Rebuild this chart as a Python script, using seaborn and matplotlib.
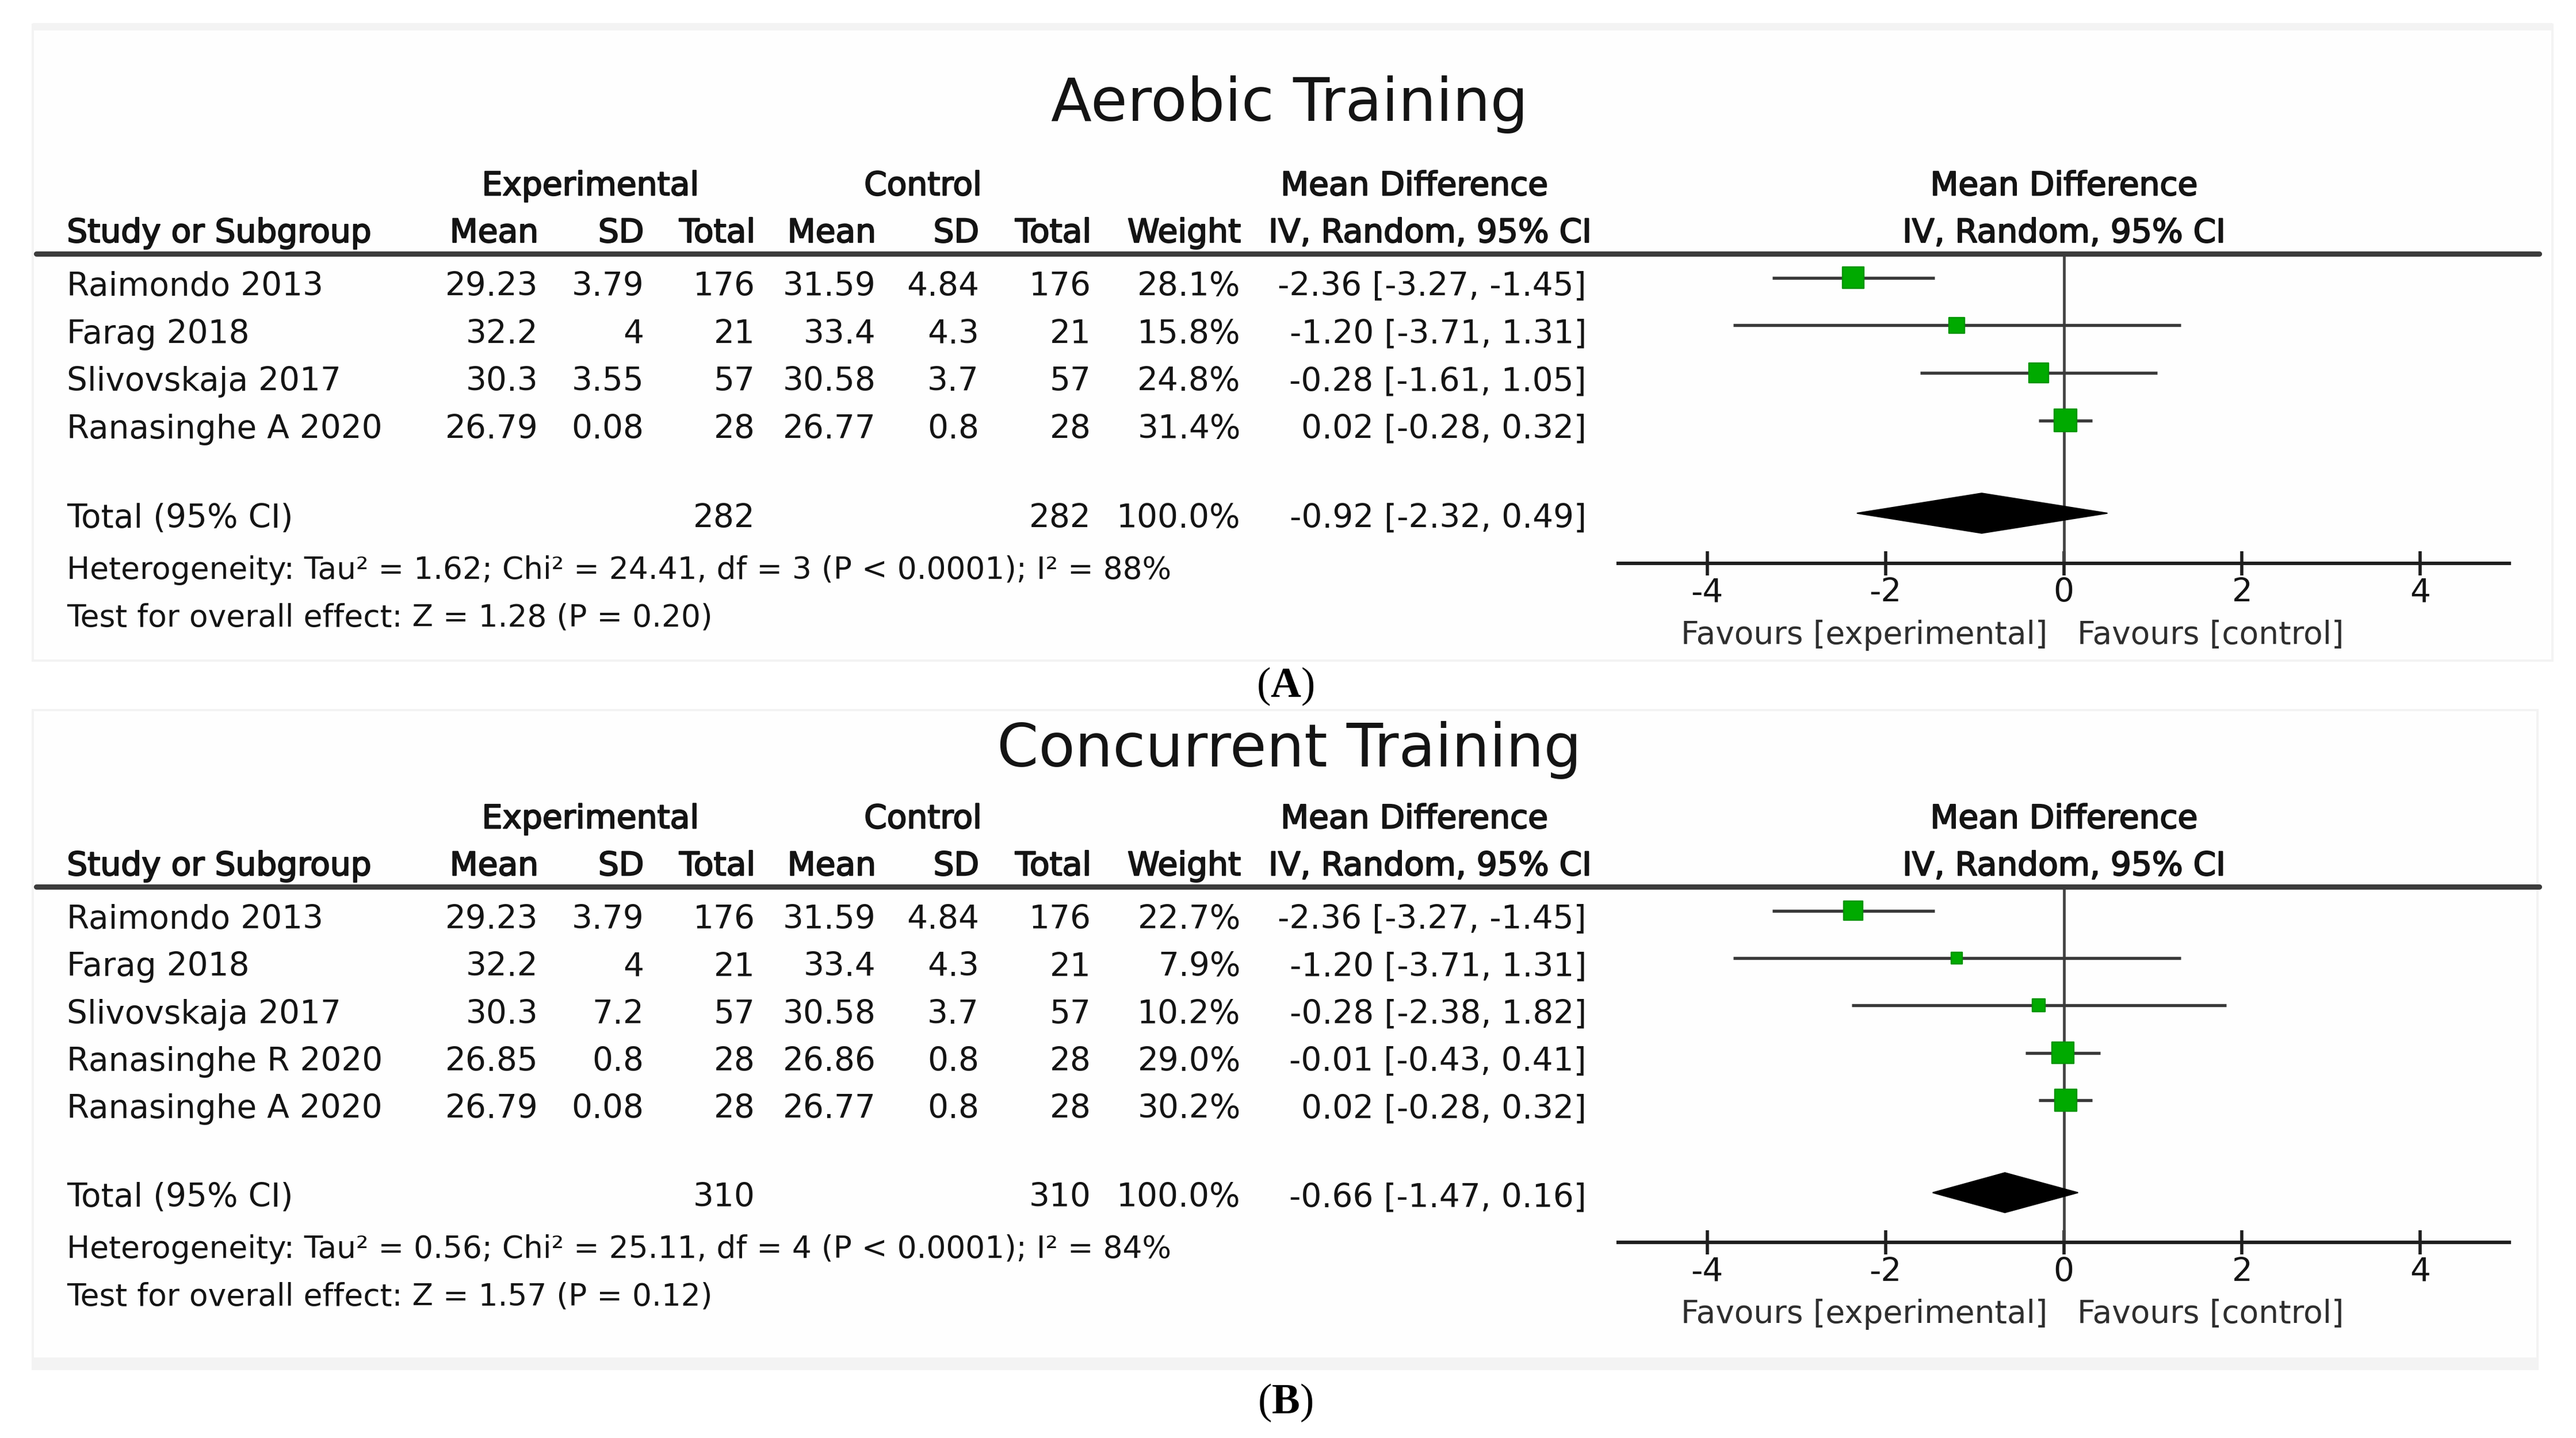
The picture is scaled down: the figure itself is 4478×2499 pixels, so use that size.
import numpy as np
import matplotlib
matplotlib.use("Agg")
import matplotlib.pyplot as plt
import matplotlib.transforms as mtransforms
import matplotlib.patheffects as pe
from matplotlib.lines import Line2D
from matplotlib.patches import Rectangle, Polygon
import seaborn as sns

# ---------------- data ----------------
# Panel A: Aerobic Training
studies_a = ["Raimondo 2013", "Farag 2018", "Slivovskaja 2017", "Ranasinghe A 2020"]
exp_mean_a = [29.23, 32.2, 30.3, 26.79]
exp_sd_a = [3.79, 4, 3.55, 0.08]
exp_n_a = [176, 21, 57, 28]
ctl_mean_a = [31.59, 33.4, 30.58, 26.77]
ctl_sd_a = [4.84, 4.3, 3.7, 0.8]
ctl_n_a = [176, 21, 57, 28]
weight_a = [28.1, 15.8, 24.8, 31.4]
md_a = [-2.36, -1.20, -0.28, 0.02]
lo_a = [-3.27, -3.71, -1.61, -0.28]
hi_a = [-1.45, 1.31, 1.05, 0.32]
total_a = [-0.92, -2.32, 0.49]
total_n_a = [282, 282]
total_w_a = 100.0
het_a = "Heterogeneity: Tau\u00b2 = 1.62; Chi\u00b2 = 24.41, df = 3 (P < 0.0001); I\u00b2 = 88%"
test_a = "Test for overall effect: Z = 1.28 (P = 0.20)"

# Panel B: Concurrent Training
studies_b = ["Raimondo 2013", "Farag 2018", "Slivovskaja 2017", "Ranasinghe R 2020", "Ranasinghe A 2020"]
exp_mean_b = [29.23, 32.2, 30.3, 26.85, 26.79]
exp_sd_b = [3.79, 4, 7.2, 0.8, 0.08]
exp_n_b = [176, 21, 57, 28, 28]
ctl_mean_b = [31.59, 33.4, 30.58, 26.86, 26.77]
ctl_sd_b = [4.84, 4.3, 3.7, 0.8, 0.8]
ctl_n_b = [176, 21, 57, 28, 28]
weight_b = [22.7, 7.9, 10.2, 29.0, 30.2]
md_b = [-2.36, -1.20, -0.28, -0.01, 0.02]
lo_b = [-3.27, -3.71, -2.38, -0.43, -0.28]
hi_b = [-1.45, 1.31, 1.82, 0.41, 0.32]
total_b = [-0.66, -1.47, 0.16]
total_n_b = [310, 310]
total_w_b = 100.0
het_b = "Heterogeneity: Tau\u00b2 = 0.56; Chi\u00b2 = 25.11, df = 4 (P < 0.0001); I\u00b2 = 84%"
test_b = "Test for overall effect: Z = 1.57 (P = 0.12)"

x_ticks = [-4, -2, 0, 2, 4]
fav_left = "Favours [experimental]"
fav_right = "Favours [control]"

# ---------------- style ----------------
sns.set_style("white")
plt.rcParams["font.family"] = ["DejaVu Sans"]
plt.rcParams["axes.unicode_minus"] = False
plt.rcParams["mathtext.fontset"] = "custom"
plt.rcParams["mathtext.bf"] = "Liberation Serif:bold"
plt.rcParams["mathtext.rm"] = "Liberation Serif"

DPI = 287
fig = plt.figure(figsize=(4478 / DPI, 2499 / DPI), dpi=DPI)
W = 4478 / DPI * 100.0   # layout units (1/100 inch)
H = 2499 / DPI * 100.0
PX = 0.72                 # points per layout unit

def fx(p):
    return p / W

def fy(p):
    return 1 - p / H

TXT = "#141414"
FS = 14.2
FS_NOTE = 13.4
CAP_HALF = 7.2
GREEN = "#00aa00"
HDR_FX = [pe.withStroke(linewidth=0.55, foreground=TXT)]

COL_R = [326, 390, 457.5, 530.5, 593, 661, 751.5, 961]
X_AX0, X_AX1 = 980.0, 1520.0


def fmt(v):
    return f"{v:g}"


def draw_panel(title, studies, em, esd, en, cm, csd, cn, wt, md, lo, hi, tot, tot_n, tot_w,
               het, test, lay):
    n = len(studies)
    rule, axis_y = lay["rule"], lay["axis"]

    # faint screenshot frame
    x0, y0, x1, y1 = lay["bg"]
    fig.add_artist(Rectangle((fx(x0), fy(y1)), fx(x1 - x0), (y1 - y0) / H,
                             transform=fig.transFigure, facecolor="#fefefe",
                             edgecolor="#f3f3f3", lw=1.0, zorder=0))
    by0, by1 = lay["band"]
    fig.add_artist(Rectangle((fx(x0), fy(by1)), fx(x1 - x0), (by1 - by0) / H,
                             transform=fig.transFigure, facecolor="#f3f3f3",
                             edgecolor="none", zorder=0))

    # title
    fig.text(fx(781), fy(lay["title"]), title, fontsize=26, color=TXT,
             ha="center", va="baseline")

    # forest axes
    ax = fig.add_axes([fx(X_AX0), fy(axis_y), fx(X_AX1 - X_AX0), (axis_y - rule) / H])
    ax.set_xlim(-5, 5)
    ax.set_ylim(n + 2, -0.51)
    ax.patch.set_alpha(0)
    for s in ["top", "left", "right"]:
        ax.spines[s].set_visible(False)
    ax.spines["bottom"].set_color("#1e1e1e")
    ax.spines["bottom"].set_linewidth(1.5)
    ax.set_yticks([])
    ax.set_xticks(x_ticks)
    ax.set_xticklabels([str(t) for t in x_ticks])
    ax.tick_params(axis="x", bottom=True, direction="inout", length=14.5 * PX, width=1.4,
                   color="#1e1e1e", labelsize=FS, labelcolor=TXT, pad=1.0)
    ax.grid(False)

    rows = np.arange(n)
    ax.axvline(0, color="#444444", lw=1.2, zorder=1)
    ax.hlines(rows, lo, hi, color="#3a3a3a", lw=1.35, zorder=2)
    sns.scatterplot(x=md, y=rows, s=[3.0 * w for w in wt], marker="s",
                    color=GREEN, edgecolor="#009400", linewidth=0.6,
                    legend=False, zorder=3, ax=ax)
    t_idx = n + 0.95
    hh = 0.42
    ax.add_patch(Polygon([(tot[1], t_idx), (tot[0], t_idx - hh), (tot[2], t_idx),
                          (tot[0], t_idx + hh)], closed=True, facecolor="black",
                         edgecolor="black", lw=0.5, zorder=3))

    # favours labels
    ax.annotate(fav_left, xy=(0, 0), xycoords=("data", "axes fraction"),
                xytext=(-7.0, -43.5 * PX), textcoords="offset points",
                ha="right", va="center", fontsize=13.8, color="#2e2e2e")
    ax.annotate(fav_right, xy=(0, 0), xycoords=("data", "axes fraction"),
                xytext=(6, -43.5 * PX), textcoords="offset points",
                ha="left", va="center", fontsize=13.8, color="#2e2e2e")

    # header rule
    fig.add_artist(Line2D([fx(22), fx(1538)], [fy(rule), fy(rule)],
                          transform=fig.transFigure, color="#3c3c3c", lw=2.3))

    # headers
    h1 = fy(rule - 42.5 + CAP_HALF)
    h2 = fy(rule - 14 + CAP_HALF)
    hk = dict(fontsize=FS, color=TXT, va="baseline", path_effects=HDR_FX)
    fig.text(fx(357.5), h1, "Experimental", ha="center", **hk)
    fig.text(fx(559), h1, "Control", ha="center", **hk)
    fig.text(fx(856.5), h1, "Mean Difference", ha="center", **hk)
    fig.text(fx(40.5), h2, "Study or Subgroup", ha="left", **hk)
    for xr, lab in zip(COL_R[:7], ["Mean", "SD", "Total", "Mean", "SD", "Total", "Weight"]):
        fig.text(fx(xr), h2, lab, ha="right", **hk)
    fig.text(fx(866), h2, "IV, Random, 95% CI", ha="center", **hk)
    hdr_tr = mtransforms.blended_transform_factory(ax.transData, fig.transFigure)
    ax.text(0, h1, "Mean Difference", transform=hdr_tr, ha="center", **hk)
    ax.text(0, h2, "IV, Random, 95% CI", transform=hdr_tr, ha="center", **hk)

    # table rows (aligned with forest rows)
    base = mtransforms.blended_transform_factory(fig.transFigure, ax.transData)
    tr = mtransforms.offset_copy(base, fig=fig, y=-(3.7 + CAP_HALF) * PX, units="points")
    tk = dict(fontsize=FS, color=TXT, va="baseline", transform=tr)
    for i in range(n):
        fig.text(fx(40.5), i, studies[i], ha="left", **tk)
        vals = [fmt(em[i]), fmt(esd[i]), str(en[i]), fmt(cm[i]), fmt(csd[i]), str(cn[i]),
                f"{wt[i]:.1f}%", f"{md[i]:.2f} [{lo[i]:.2f}, {hi[i]:.2f}]"]
        for xr, v in zip(COL_R, vals):
            fig.text(fx(xr), i, v, ha="right", **tk)
    tt = t_idx - 0.08
    fig.text(fx(40.5), tt, "Total (95% CI)", ha="left", **tk)
    fig.text(fx(COL_R[2]), tt, str(tot_n[0]), ha="right", **tk)
    fig.text(fx(COL_R[5]), tt, str(tot_n[1]), ha="right", **tk)
    fig.text(fx(COL_R[6]), tt, f"{tot_w:.1f}%", ha="right", **tk)
    fig.text(fx(COL_R[7]), tt, f"{tot[0]:.2f} [{tot[1]:.2f}, {tot[2]:.2f}]", ha="right", **tk)
    nk = dict(tk)
    nk["fontsize"] = FS_NOTE
    fig.text(fx(40.5), tt + 1.08, het, ha="left", **nk)
    fig.text(fx(40.5), tt + 2.08, test, ha="left", **nk)

    # panel letter
    fig.text(fx(778.5), fy(lay["letter"]), lay["letter_txt"], fontsize=18.4,
             family="Liberation Serif", color="black", ha="center", va="baseline")
    return ax


draw_panel("Aerobic Training", studies_a, exp_mean_a, exp_sd_a, exp_n_a, ctl_mean_a,
           ctl_sd_a, ctl_n_a, weight_a, md_a, lo_a, hi_a, total_a, total_n_a, total_w_a,
           het_a, test_a,
           dict(rule=153.5, axis=341.0, title=73.3, bg=(20, 15, 1546, 400), band=(14, 18.5),
                letter=422.0, letter_txt=r"($\mathbf{A}$)"))
draw_panel("Concurrent Training", studies_b, exp_mean_b, exp_sd_b, exp_n_b, ctl_mean_b,
           ctl_sd_b, ctl_n_b, weight_b, md_b, lo_b, hi_b, total_b, total_n_b, total_w_b,
           het_b, test_b,
           dict(rule=536.8, axis=752.3, title=464.0, bg=(20, 430, 1537, 829), band=(822, 829),
                letter=855.8, letter_txt=r"($\mathbf{B}$)"))

fig.savefig("out.png", dpi=DPI, facecolor="white")
